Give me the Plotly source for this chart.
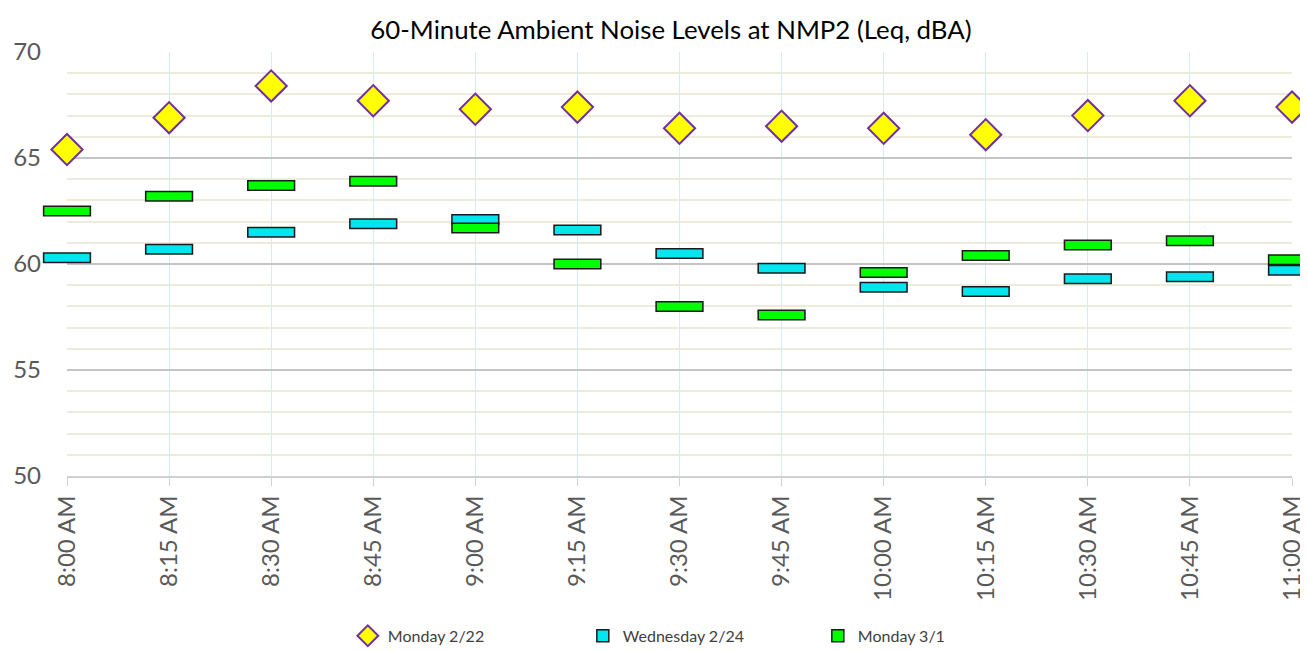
import plotly.graph_objects as go

times = ["8:00 AM", "8:15 AM", "8:30 AM", "8:45 AM", "9:00 AM", "9:15 AM", "9:30 AM",
         "9:45 AM", "10:00 AM", "10:15 AM", "10:30 AM", "10:45 AM", "11:00 AM"]
mon_2_22 = [65.4, 66.9, 68.4, 67.7, 67.3, 67.4, 66.4, 66.5, 66.4, 66.1, 67.0, 67.7, 67.4]
wed_2_24 = [60.3, 60.7, 61.5, 61.9, 62.1, 61.6, 60.5, 59.8, 58.9, 58.7, 59.3, 59.4, 59.7]
mon_3_1 = [62.5, 63.2, 63.7, 63.9, 61.7, 60.0, 58.0, 57.6, 59.6, 60.4, 60.9, 61.1, 60.2]

EDGE = "#1a1a1a"
FONT = "Lato, Open Sans, sans-serif"

fig = go.Figure()


def level_traces(name, vals, color, rank):
    # outlined horizontal rectangle marker: dark wide stroke + coloured inner stroke
    outline = go.Scatter(
        x=times, y=vals, mode="markers", showlegend=False, hoverinfo="skip",
        cliponaxis=False, name=name,
        marker=dict(symbol="line-ew", size=34.5, line=dict(color=EDGE, width=11)),
    )
    inner = go.Scatter(
        x=times, y=vals, mode="markers", showlegend=False, cliponaxis=False, name=name,
        marker=dict(symbol="line-ew", size=32.3, line=dict(color=color, width=8)),
    )
    legend_item = go.Bar(
        x=[None], y=[None], name=name, legendrank=rank,
        marker=dict(color=color, line=dict(color=EDGE, width=1.5)),
    )
    return [outline, inner, legend_item]


for t in level_traces("Wednesday 2/24", wed_2_24, "#00E5EE", 2):
    fig.add_trace(t)
for t in level_traces("Monday 3/1", mon_3_1, "#00FF00", 3):
    fig.add_trace(t)

fig.add_trace(go.Scatter(
    x=times, y=mon_2_22, mode="markers", name="Monday 2/22", cliponaxis=False,
    legendrank=1,
    marker=dict(symbol="diamond", size=24, color="#FFFF00",
                line=dict(color="#7030A0", width=2)),
))

# page body has an 8px margin, so the figure is sized to fit the 1308x651 window
fig.update_layout(
    width=1300, height=643,
    margin=dict(l=59, r=16, t=44, b=175, autoexpand=False),
    paper_bgcolor="white", plot_bgcolor="white",
    font=dict(family=FONT, color="#595959"),
    title=dict(text="60-Minute Ambient Noise Levels at NMP2 (Leq, dBA)",
               x=0.51, xanchor="center", y=0.966, yanchor="middle",
               font=dict(size=25.8, color="#000000", family=FONT)),
    legend=dict(orientation="h", x=0.517, xanchor="center", y=-0.377, yanchor="middle",
                font=dict(size=16, color="#404040", family=FONT),
                entrywidth=190, entrywidthmode="pixels"),
    xaxis=dict(type="category", range=[0, 12], automargin=False, showgrid=True,
               gridcolor="#d5ebf5", gridwidth=1, tickangle=-90,
               tickfont=dict(size=24, color="#595959", family=FONT),
               ticks="outside", ticklen=8, tickcolor="#d0d0d0",
               showline=True, linecolor="#d0d0d0", linewidth=1.5, zeroline=False),
    yaxis=dict(range=[50, 70], dtick=5, automargin=False, showgrid=True,
               gridcolor="#c4c4c4", gridwidth=1.5, ticklabelstandoff=25,
               tickfont=dict(size=24, color="#595959", family=FONT), zeroline=False,
               minor=dict(dtick=1, showgrid=True, gridcolor="#ecebdc", gridwidth=1.5)),
)

fig.write_html("out.html")
